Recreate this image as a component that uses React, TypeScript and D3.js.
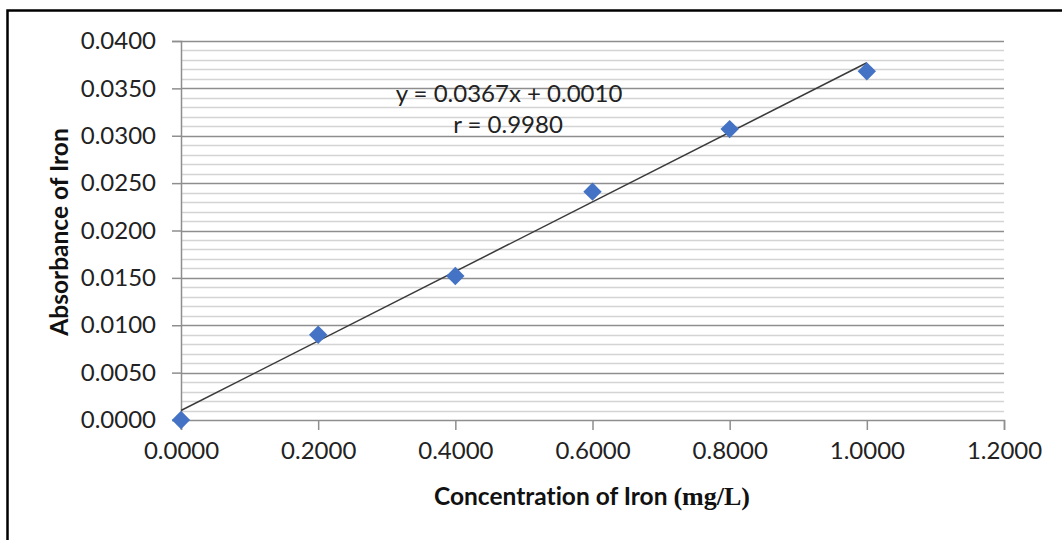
import React, { useEffect, useRef } from "react";
import * as d3 from "d3";

// standard concentrations (mg/L) and measured absorbance
const concentrations = [0, 0.2, 0.4, 0.6, 0.8, 1.0];
const absorbances = [0.0, 0.009, 0.0152, 0.0241, 0.0307, 0.0368];
const xTicks = [0, 0.2, 0.4, 0.6, 0.8, 1.0, 1.2];
const yTicks = [0, 0.005, 0.01, 0.015, 0.02, 0.025, 0.03, 0.035, 0.04];
const slope = 0.0367;
const intercept = 0.001;
const equationLabel = "y = 0.0367x + 0.0010";
const rLabel = "r = 0.9980";

const App = () => {
  const svgRef = useRef<SVGSVGElement>(null);

  useEffect(() => {
    const width = 1062;
    const height = 540;
    const margin = { top: 41, right: 58, bottom: 120, left: 181 };
    const font = "Lato, 'Open Sans', sans-serif";

    const svg = d3.select(svgRef.current);
    svg.selectAll("*").remove();
    svg
      .attr("width", width)
      .attr("height", height)
      .style("font-variant-ligatures", "none");

    svg.append("rect").attr("width", width).attr("height", height).attr("fill", "#fff");

    // outer chart border (cropped on right and bottom)
    svg
      .append("path")
      .attr("d", `M7.5,${height} V10.5 H${width}`)
      .attr("fill", "none")
      .attr("stroke", "#000")
      .attr("stroke-width", 2.5);

    const x = d3
      .scaleLinear()
      .domain([0, 1.2])
      .range([margin.left, width - margin.right]);
    const y = d3
      .scaleLinear()
      .domain([0, 0.04])
      .range([height - margin.bottom, margin.top]);

    // minor gridlines
    const minor = d3.range(1, 40).map((i) => i * 0.001).filter((_, i) => (i + 1) % 5 !== 0);
    svg
      .append("g")
      .selectAll("line")
      .data(minor)
      .join("line")
      .attr("x1", x(0))
      .attr("x2", x(1.2))
      .attr("y1", (d) => Math.round(y(d)) + 0.5)
      .attr("y2", (d) => Math.round(y(d)) + 0.5)
      .attr("stroke", "#d4d4d4")
      .attr("stroke-width", 1.5);

    // major gridlines
    svg
      .append("g")
      .selectAll("line")
      .data(yTicks.slice(1))
      .join("line")
      .attr("x1", x(0))
      .attr("x2", x(1.2))
      .attr("y1", (d) => Math.round(y(d)) + 0.5)
      .attr("y2", (d) => Math.round(y(d)) + 0.5)
      .attr("stroke", "#8e8e8e")
      .attr("stroke-width", 1.5);

    // y axis
    const yAxis = svg
      .append("g")
      .attr("transform", `translate(${x(0)},0)`)
      .call(
        d3
          .axisLeft(y)
          .tickValues(yTicks)
          .tickSize(9)
          .tickPadding(16)
          .tickFormat(d3.format(".4f"))
      );
    yAxis.select(".domain").attr("stroke", "#8e8e8e").attr("stroke-width", 1.5);
    yAxis.selectAll(".tick line").attr("stroke", "#8e8e8e").attr("stroke-width", 1.5);
    yAxis
      .selectAll(".tick text")
      .attr("font-family", font)
      .attr("font-size", 24)
      .attr("fill", "#222");

    // x axis
    const xAxis = svg
      .append("g")
      .attr("transform", `translate(0,${y(0)})`)
      .call(
        d3
          .axisBottom(x)
          .tickValues(xTicks)
          .tickSize(10)
          .tickPadding(12)
          .tickFormat(d3.format(".4f"))
      );
    xAxis.select(".domain").attr("stroke", "#8e8e8e").attr("stroke-width", 1.5);
    xAxis.selectAll(".tick line").attr("stroke", "#8e8e8e").attr("stroke-width", 1.5);
    xAxis
      .selectAll(".tick text")
      .attr("font-family", font)
      .attr("font-size", 24)
      .attr("fill", "#222");

    // linear trendline
    svg
      .append("line")
      .attr("x1", x(0))
      .attr("y1", y(intercept))
      .attr("x2", x(1.0))
      .attr("y2", y(slope * 1.0 + intercept))
      .attr("stroke", "#3a3a3a")
      .attr("stroke-width", 1.5);

    // diamond markers
    const diamond = d3.symbol().type(d3.symbolDiamond2).size(215);
    svg
      .append("g")
      .selectAll("path")
      .data(concentrations.map((c, i) => [c, absorbances[i]]))
      .join("path")
      .attr("d", diamond)
      .attr("transform", (d) => `translate(${x(d[0])},${y(d[1])})`)
      .attr("fill", "#4472C4");

    // equation labels
    svg
      .append("text")
      .attr("x", 509)
      .attr("y", 102)
      .attr("text-anchor", "middle")
      .attr("font-family", font)
      .attr("font-size", 24)
      .attr("fill", "#222")
      .text(equationLabel);
    svg
      .append("text")
      .attr("x", 508)
      .attr("y", 133)
      .attr("text-anchor", "middle")
      .attr("font-family", font)
      .attr("font-size", 24)
      .attr("fill", "#222")
      .text(rLabel);

    // axis titles
    const xt = svg
      .append("text")
      .attr("x", 592)
      .attr("y", 505)
      .attr("text-anchor", "middle")
      .attr("font-family", font)
      .attr("font-weight", "bold")
      .attr("font-size", 24.5)
      .attr("fill", "#111");
    xt.append("tspan").text("Concentration of Iron ");
    xt.append("tspan").attr("font-family", "'Liberation Serif', serif").attr("font-size", 26).text("(mg/L)");

    svg
      .append("text")
      .attr("transform", "translate(68,232) rotate(-90)")
      .attr("text-anchor", "middle")
      .attr("font-family", font)
      .attr("font-weight", "bold")
      .attr("font-size", 24.5)
      .attr("fill", "#111")
      .text("Absorbance of Iron");
  }, []);

  return (
    <div style={{ position: "absolute", left: 0, top: 0 }}>
      <svg ref={svgRef}></svg>
    </div>
  );
};

export default App;
